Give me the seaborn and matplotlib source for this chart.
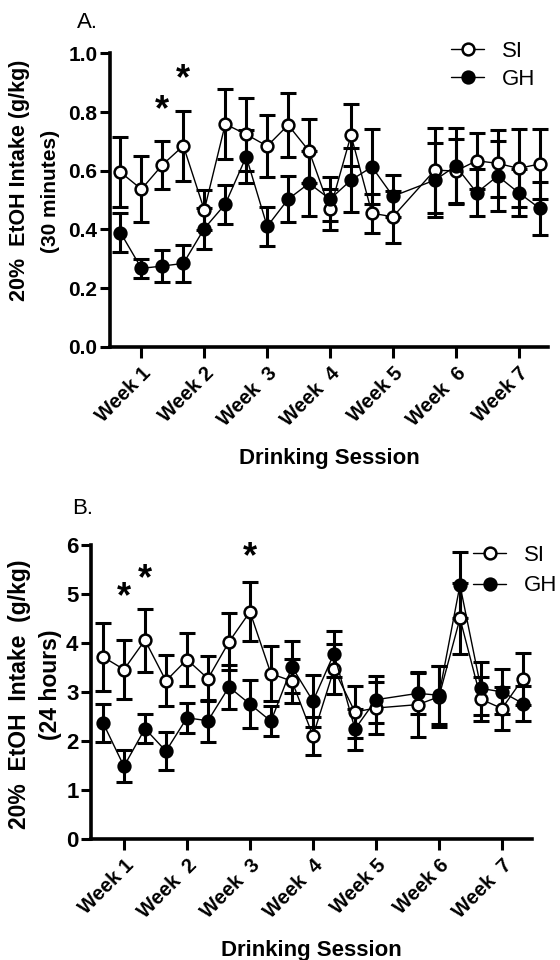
import matplotlib
matplotlib.use("Agg")
import matplotlib.pyplot as plt
import seaborn as sns

# drinking sessions (3 per week, session 15 not recorded)
sessions = [1, 2, 3, 4, 5, 6, 7, 8, 9, 10, 11, 12, 13, 14, 16, 17, 18, 19, 20, 21]
week_ticks = [2, 5, 8, 11, 14, 17, 20]
weeks_a = ["Week 1", "Week 2", "Week  3", "Week  4", "Week 5", "Week  6", "Week 7"]
weeks_b = ["Week 1", "Week  2", "Week  3", "Week  4", "Week 5", "Week 6", "Week  7"]

# A. 30 minute intake (g/kg), mean and SEM
si_30 = [0.595, 0.537, 0.62, 0.685, 0.466, 0.759, 0.724, 0.684, 0.756, 0.667,
         0.468, 0.721, 0.455, 0.443, 0.602, 0.599, 0.634, 0.625, 0.608, 0.623]
si_30_sem = [0.12, 0.113, 0.083, 0.12, 0.068, 0.12, 0.125, 0.105, 0.11, 0.11,
             0.07, 0.106, 0.067, 0.089, 0.145, 0.108, 0.095, 0.115, 0.133, 0.118]
gh_30 = [0.389, 0.267, 0.275, 0.284, 0.403, 0.486, 0.648, 0.41, 0.503, 0.557,
         0.503, 0.568, 0.613, 0.513, 0.568, 0.616, 0.525, 0.582, 0.525, 0.472]
gh_30_sem = [0.067, 0.032, 0.055, 0.063, 0.07, 0.067, 0.09, 0.068, 0.078, 0.11,
             0.076, 0.11, 0.128, 0.072, 0.125, 0.13, 0.08, 0.12, 0.08, 0.09]

# B. 24 hour intake (g/kg), mean and SEM
si_24 = [3.725, 3.466, 4.066, 3.234, 3.67, 3.28, 4.03, 4.645, 3.38, 3.23,
         2.11, 3.47, 2.60, 2.68, 2.75, 2.91, 4.51, 2.86, 2.67, 3.28]
si_24_sem = [0.69, 0.6, 0.645, 0.52, 0.55, 0.46, 0.58, 0.6, 0.56, 0.45,
             0.38, 0.51, 0.53, 0.54, 0.66, 0.62, 0.73, 0.45, 0.43, 0.53]
gh_24 = [2.38, 1.49, 2.26, 1.80, 2.48, 2.42, 3.11, 2.76, 2.41, 3.52,
         2.82, 3.79, 2.25, 2.85, 2.98, 2.94, 5.19, 3.08, 3.01, 2.77]
gh_24_sem = [0.39, 0.33, 0.29, 0.39, 0.3, 0.43, 0.44, 0.49, 0.31, 0.53,
             0.53, 0.47, 0.42, 0.48, 0.42, 0.59, 0.68, 0.54, 0.46, 0.36]

# significance markers (session, baseline height of the "*")
stars_a = [(3, 0.773), (4, 0.878)]
stars_b = [(2, 4.74), (3, 5.10), (8, 5.56)]

sns.set_style("ticks")
plt.rcParams["font.family"] = ["Liberation Sans", "DejaVu Sans"]
plt.rcParams.update({"text.color": "black", "axes.labelcolor": "black",
                     "xtick.color": "black", "ytick.color": "black"})

fig = plt.figure(figsize=(5.6, 9.6), dpi=100)
ax_a = fig.add_axes([110 / 560, 1 - 346.7 / 960, 438 / 560, 293.3 / 960])
ax_b = fig.add_axes([91 / 560, 1 - 839.3 / 960, 441 / 560, 293.9 / 960])


def draw_panel(ax, si, si_sem, gh, gh_sem, weeks, stars, ysize):
    handles = []
    for vals, sem, face, name in [(si, si_sem, "white", "SI"), (gh, gh_sem, "black", "GH")]:
        ax.errorbar(sessions, vals, yerr=sem, fmt="none", ecolor="black",
                    elinewidth=2.2, capsize=5.5, capthick=2.2, zorder=2)
        sns.lineplot(x=sessions, y=vals, ax=ax, color="black", linewidth=1.0,
                     marker="o", markersize=8.5, markerfacecolor=face,
                     markeredgecolor="black", markeredgewidth=1.8,
                     label=name, legend=False, zorder=3)
        handles.append(ax.lines[-1])
    for s, h in stars:
        ax.text(s, h, "*", ha="center", va="baseline", fontsize=26,
                fontweight="bold")
    ax.set_xticks(week_ticks)
    ax.set_xticklabels(weeks, rotation=45, ha="right", rotation_mode="anchor",
                       fontsize=14.5, fontweight="bold")
    ax.set_xlabel("Drinking Session", fontsize=16, fontweight="bold", labelpad=13)
    ax.set_ylabel("")
    ax.tick_params(axis="both", direction="out", width=2.2)
    ax.tick_params(axis="x", length=8, pad=4)
    ax.tick_params(axis="y", length=7, pad=2, labelsize=ysize)
    sns.despine(ax=ax)
    for side in ["left", "bottom"]:
        ax.spines[side].set_linewidth(2.6)
        ax.spines[side].set_color("black")
    return handles


h_a = draw_panel(ax_a, si_30, si_30_sem, gh_30, gh_30_sem, weeks_a, stars_a, 15)
ax_a.set_xlim(0.5, 21.4)
ax_a.set_ylim(0, 1.0)
ax_a.set_yticks([0.0, 0.2, 0.4, 0.6, 0.8, 1.0])
ax_a.set_yticklabels(["0.0", "0.2", "0.4", "0.6", "0.8", "1.0"], fontweight="bold")

h_b = draw_panel(ax_b, si_24, si_24_sem, gh_24, gh_24_sem, weeks_b, stars_b, 16)
ax_b.set_xlim(0.43, 21.43)
ax_b.set_ylim(0, 6)
ax_b.set_yticks([0, 1, 2, 3, 4, 5, 6])
ax_b.set_yticklabels(["0", "1", "2", "3", "4", "5", "6"], fontweight="bold")

leg_kw = dict(frameon=False, fontsize=16, handlelength=1.5, handletextpad=0.8,
              borderpad=0, borderaxespad=0, loc="upper left",
              bbox_transform=fig.transFigure)
ax_a.legend(h_a, ["SI", "GH"], bbox_to_anchor=(451 / 560, 1 - 41 / 960),
            labelspacing=0.3, **leg_kw)
ax_b.legend(h_b, ["SI", "GH"], bbox_to_anchor=(473 / 560, 1 - 545 / 960),
            labelspacing=0.42, **leg_kw)

# panel letters and y-axis titles
fig.text(77 / 560, 1 - 22 / 960, "A.", fontsize=16, ha="left", va="center")
fig.text(72 / 560, 1 - 508 / 960, "B.", fontsize=16, ha="left", va="center")
fig.text(20 / 560, 1 - 180 / 960, "20%  EtOH Intake (g/kg)", rotation=90,
         fontsize=15.5, fontweight="bold", ha="center", va="center")
fig.text(50 / 560, 1 - 191 / 960, "(30 minutes)", rotation=90,
         fontsize=15, fontweight="bold", ha="center", va="center")
fig.text(20 / 560, 1 - 694 / 960, "20%  EtOH  Intake  (g/kg)", rotation=90,
         fontsize=16.5, fontweight="bold", ha="center", va="center")
fig.text(50 / 560, 1 - 685 / 960, "(24 hours)", rotation=90,
         fontsize=16.5, fontweight="bold", ha="center", va="center")

fig.savefig("out.png", dpi=100)
